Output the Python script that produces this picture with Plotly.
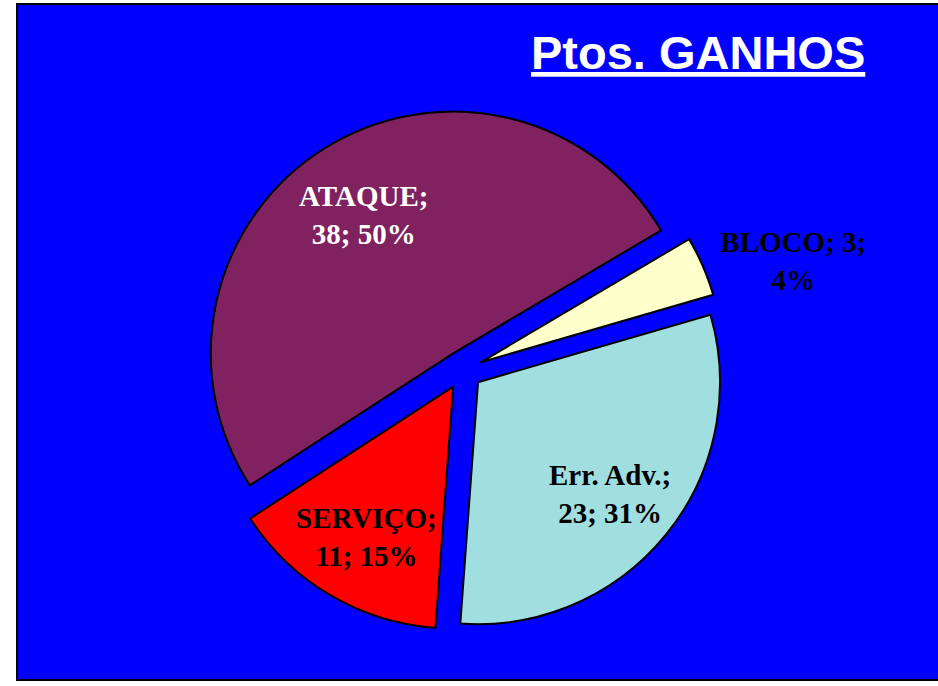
import math
import plotly.graph_objects as go

labels = ["ATAQUE", "BLOCO", "Err. Adv.", "SERVIÇO"]
values = [38, 3, 23, 11]
pct_labels = ["50%", "4%", "31%", "15%"]
colors = ["#80225F", "#FFFFCC", "#A0DEE0", "#FF0000"]
text_colors = ["white", "black", "black", "black"]
inside = [True, False, True, True]

W, H = 938, 686
cx, cy = 463, 370          # pie centre (px)
pull = 0.08
r = 242
half = r * (1 + pull)      # half size of pie domain (px)
rotation = 237
label_frac = 0.70
font_size = 29

total = sum(values)

pie_text = []
annotations = []
cum = 0
for lab, v, p, tc, ins in zip(labels, values, pct_labels, text_colors, inside):
    mid = math.radians(rotation + 360 * (cum + v / 2) / total)
    cum += v
    if ins:
        pie_text.append("")
        d = pull * r + label_frac * r
        x = cx + d * math.sin(mid)
        y = cy - d * math.cos(mid)
        annotations.append(dict(
            text=f"<b>{lab};<br>{v}; {p}</b>", x=x / W, y=1 - y / H,
            xref="paper", yref="paper", showarrow=False,
            xanchor="center", yanchor="middle", align="center", yshift=-5,
            font=dict(family="Liberation Serif", size=font_size, color=tc)))
    else:
        pie_text.append(f"<b>{lab}; {v};<br>{p}</b>")

annotations.append(dict(text="<b><u>Ptos. GANHOS</u></b>", x=698 / W, y=1 - 53 / H,
                        xref="paper", yref="paper", showarrow=False,
                        xanchor="center", yanchor="middle",
                        font=dict(family="Liberation Sans", size=47, color="white")))

fig = go.Figure(go.Pie(
    labels=labels,
    values=values,
    text=pie_text,
    textinfo="text",
    sort=False,
    direction="clockwise",
    rotation=rotation,
    pull=[pull] * len(values),
    marker=dict(colors=colors, line=dict(color="black", width=2)),
    textposition="outside",
    textfont=dict(family="Liberation Serif", size=font_size, color="black"),
    hoverinfo="label+value+percent",
    showlegend=False,
    domain=dict(x=[(cx - half) / W, (cx + half) / W],
                y=[(H - cy - half) / H, (H - cy + half) / H]),
))

fig.update_layout(
    width=W, height=H,
    margin=dict(l=0, r=0, t=0, b=0),
    paper_bgcolor="white",
    uniformtext=dict(minsize=font_size, mode="show"),
    shapes=[dict(type="rect", xref="paper", yref="paper",
                 x0=17 / W, x1=1.01, y0=1 - 680 / H, y1=1 - 4 / H,
                 fillcolor="#0000FF", line=dict(color="black", width=2),
                 layer="below")],
    annotations=annotations,
)

fig.write_html("out.html", config={"displayModeBar": False},
               post_script="document.body.style.margin='0';document.body.style.overflow='hidden';")
